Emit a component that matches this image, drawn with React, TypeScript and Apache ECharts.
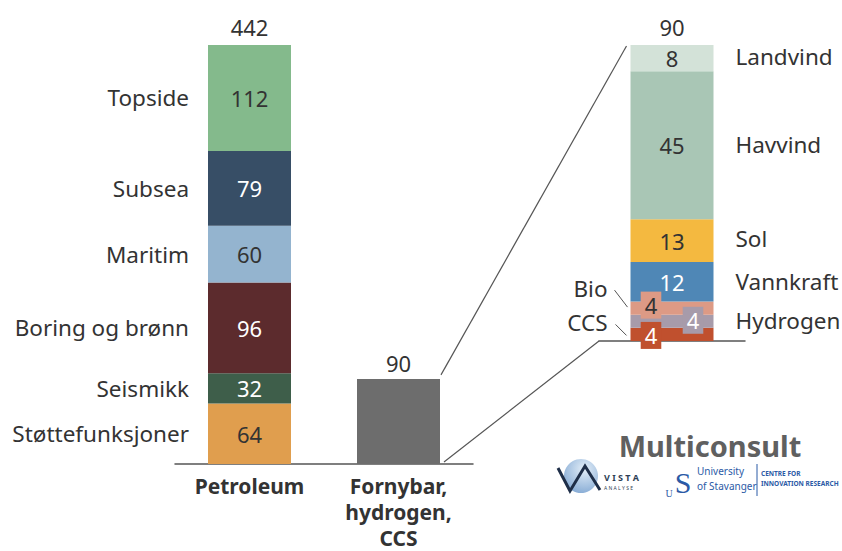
import React, { useEffect, useRef } from 'react';
import * as echarts from 'echarts';

// ---------- data ----------
const mainCategories = ['Petroleum', 'Fornybar,\nhydrogen,\nCCS'];
const petroleumNames = ['Støttefunksjoner', 'Seismikk', 'Boring og brønn', 'Maritim', 'Subsea', 'Topside'];
const petroleumValues = [64, 32, 96, 60, 79, 112];
const petroleumTotalLabel = 442;
const renewableTotal = 90;
const renewableNames = ['CCS', 'Hydrogen', 'Bio', 'Vannkraft', 'Sol', 'Havvind', 'Landvind'];
const renewableValues = [4, 4, 4, 12, 13, 45, 8];

// ---------- styles ----------
const TEXT = '#333333';
const FONT = '"Noto Sans", "Open Sans", sans-serif';
const FS = 22;
const BAR_W = 83;
const petroleumColors = ['#E09E4E', '#3E5E4A', '#5C2B2D', '#94B4CF', '#374E66', '#84BA8C'];
const petroleumLabelColors = [TEXT, '#ffffff', '#ffffff', TEXT, '#ffffff', TEXT];
const renewableBarColor = '#6D6D6D';
const renewableColors = ['#C0502E', '#A79BAA', '#DD9A85', '#4F87B6', '#F4B940', '#A9C6B5', '#D3E2D8'];
const renewableLabelColors = ['#ffffff', '#ffffff', TEXT, '#ffffff', TEXT, TEXT, TEXT];
const renewableLabelBoxes: Record<string, { offset: number[] }> = {
  CCS: { offset: [-21, 1] },
  Hydrogen: { offset: [21, -1] },
  Bio: { offset: [-21, -3] },
};
const renewableNameLayout: Record<string, { side: 'left' | 'right'; dy: number; leader?: number[] }> = {
  CCS: { side: 'left', dy: -12, leader: [-15, -10, -4, 1] },
  Hydrogen: { side: 'right', dy: -1 },
  Bio: { side: 'left', dy: -20, leader: [-16, -18, -3, -1] },
  Vannkraft: { side: 'right', dy: 0 },
  Sol: { side: 'right', dy: -2 },
  Havvind: { side: 'right', dy: -1 },
  Landvind: { side: 'right', dy: -2 },
};

const midpoints = (vals: number[]) =>
  vals.map((v, i) => vals.slice(0, i).reduce((a, b) => a + b, 0) + v / 2);
const sum = (vals: number[]) => vals.reduce((a, b) => a + b, 0);

export default function App() {
  const ref = useRef<HTMLDivElement>(null);
  useEffect(() => {
    document.body.style.margin = '0';
    const chart = echarts.init(ref.current!, null, { renderer: 'svg' });
    const petMid = midpoints(petroleumValues);
    const renMid = midpoints(renewableValues);

    const petroleumSeries = petroleumNames.map((name, i) => ({
      type: 'bar',
      name,
      stack: 'main',
      xAxisIndex: 0,
      yAxisIndex: 0,
      barWidth: BAR_W,
      data: [petroleumValues[i], '-'],
      itemStyle: { color: petroleumColors[i] },
      label: {
        show: true,
        position: 'inside',
        color: petroleumLabelColors[i],
        fontSize: FS,
        fontFamily: FONT,
      },
    }));

    const renewableBar = {
      type: 'bar',
      name: 'Fornybar',
      stack: 'main',
      xAxisIndex: 0,
      yAxisIndex: 0,
      barWidth: BAR_W,
      data: ['-', renewableTotal],
      itemStyle: { color: renewableBarColor },
      label: { show: true, position: 'top', distance: 5, color: TEXT, fontSize: FS, fontFamily: FONT },
    };

    const petroleumNameSeries = {
      type: 'custom',
      xAxisIndex: 0,
      yAxisIndex: 0,
      silent: true,
      clip: false,
      data: petroleumNames.map((n, i) => [0, petMid[i]]).concat([[0, sum(petroleumValues)]]),
      renderItem: (params: any, api: any) => {
        const p = api.coord([api.value(0), api.value(1)]);
        if (params.dataIndex === petroleumNames.length) {
          return {
            type: 'text',
            x: p[0],
            y: p[1] - 18,
            style: { text: String(petroleumTotalLabel), align: 'center', verticalAlign: 'middle', fill: TEXT, fontSize: FS, fontFamily: FONT },
          };
        }
        return {
          type: 'text',
          x: p[0] - BAR_W / 2 - 19,
          y: p[1],
          style: {
            text: petroleumNames[params.dataIndex],
            align: 'right',
            verticalAlign: 'middle',
            fill: TEXT,
            fontSize: FS + 0.5,
            fontFamily: FONT,
          },
        };
      },
    };

    const renewableSeries = renewableNames.map((name, i) => {
      const box = renewableLabelBoxes[name];
      return {
        type: 'bar',
        name,
        stack: 'zoom',
        xAxisIndex: 1,
        yAxisIndex: 1,
        barWidth: BAR_W,
        data: [renewableValues[i]],
        itemStyle: { color: renewableColors[i] },
        label: box
          ? {
              show: true,
              position: 'inside',
              offset: box.offset,
              color: renewableLabelColors[i],
              fontSize: FS,
              fontFamily: FONT,
              backgroundColor: renewableColors[i],
              padding: [2, 4, 1, 4],
              lineHeight: 24,
            }
          : {
              show: true,
              position: 'inside',
              color: renewableLabelColors[i],
              fontSize: FS,
              fontFamily: FONT,
            },
      };
    });

    const renewableTotalSeries = {
      type: 'custom',
      xAxisIndex: 1,
      yAxisIndex: 1,
      silent: true,
      clip: false,
      data: [[0, sum(renewableValues)]],
      renderItem: (params: any, api: any) => {
        const p = api.coord([api.value(0), api.value(1)]);
        return {
          type: 'text',
          x: p[0],
          y: p[1] - 18,
          style: { text: String(renewableTotal), align: 'center', verticalAlign: 'middle', fill: TEXT, fontSize: FS, fontFamily: FONT },
        };
      },
    };

    const renewableNameSeries = {
      type: 'custom',
      xAxisIndex: 1,
      yAxisIndex: 1,
      silent: true,
      clip: false,
      data: renewableNames.map((n, i) => [0, renMid[i]]),
      renderItem: (params: any, api: any) => {
        const name = renewableNames[params.dataIndex];
        const lay = renewableNameLayout[name];
        const p = api.coord([api.value(0), api.value(1)]);
        const left = p[0] - BAR_W / 2;
        const right = p[0] + BAR_W / 2;
        const children: any[] = [
          {
            type: 'text',
            x: lay.side === 'left' ? left - 23 : right + 22,
            y: p[1] + lay.dy,
            style: {
              text: name,
              align: lay.side === 'left' ? 'right' : 'left',
              verticalAlign: 'middle',
              fill: TEXT,
              fontSize: FS + 0.5,
              fontFamily: FONT,
            },
          },
        ];
        if (lay.leader) {
          const [x1, y1, x2, y2] = lay.leader;
          children.push({
            type: 'line',
            shape: { x1: left + x1, y1: p[1] + y1, x2: left + x2, y2: p[1] + y2 },
            style: { stroke: '#555', lineWidth: 1 },
          });
        }
        return { type: 'group', children };
      },
    };

    chart.setOption({
      animation: false,
      backgroundColor: '#ffffff',
      grid: [
        { left: 175, right: 369, top: 19.5, bottom: 87 },
        { left: 599, right: 97, top: 12.1, bottom: 210 },
      ],
      xAxis: [
        {
          type: 'category',
          gridIndex: 0,
          data: mainCategories,
          axisLine: { show: true, lineStyle: { color: '#555', width: 1.5 } },
          axisTick: { show: false },
          axisLabel: {
            color: TEXT,
            fontSize: 21,
            fontWeight: 'bold',
            fontFamily: FONT,
            lineHeight: 26,
            margin: 9,
            interval: 0,
          },
        },
        {
          type: 'category',
          gridIndex: 1,
          data: ['Fornybar'],
          axisLine: { show: true, lineStyle: { color: '#555', width: 1.5 } },
          axisTick: { show: false },
          axisLabel: { show: false },
        },
      ],
      yAxis: [
        { type: 'value', gridIndex: 0, min: 0, max: 470, show: false, splitLine: { show: false } },
        { type: 'value', gridIndex: 1, min: 0, max: 100, show: false, splitLine: { show: false } },
      ],
      series: [
        ...petroleumSeries,
        renewableBar,
        petroleumNameSeries,
        ...renewableSeries,
        renewableTotalSeries,
        renewableNameSeries,
      ],
    });

    // connector lines between the grey bar and the zoomed stack
    const a = chart.convertToPixel({ gridIndex: 0 } as any, [1, renewableTotal]) as number[];
    const b = chart.convertToPixel({ gridIndex: 0 } as any, [1, 0]) as number[];
    const c = chart.convertToPixel({ gridIndex: 1 } as any, [0, sum(renewableValues)]) as number[];
    const d = chart.convertToPixel({ gridIndex: 1 } as any, [0, 0]) as number[];

    const blue = '#2B5AA6';
    chart.setOption({
      graphic: [
        {
          type: 'line',
          shape: { x1: a[0] + BAR_W / 2 + 1, y1: a[1] - 4, x2: c[0] - BAR_W / 2 - 4, y2: c[1] + 1 },
          style: { stroke: '#555', lineWidth: 1.2 },
        },
        {
          type: 'line',
          shape: { x1: b[0] + BAR_W / 2 + 4, y1: b[1] - 2, x2: d[0] - 73, y2: d[1] },
          style: { stroke: '#555', lineWidth: 1.2 },
        },
        // logos (approximated)
        {
          type: 'text',
          x: 710,
          y: 445,
          style: { text: 'Multiconsult', align: 'center', verticalAlign: 'middle', fill: '#606060', fontSize: 29, fontWeight: 'bold', fontFamily: FONT },
        },
        {
          type: 'circle',
          shape: { cx: 581, cy: 476, r: 17 },
          style: {
            fill: new echarts.graphic.RadialGradient(0.6, 0.3, 0.8, [
              { offset: 0, color: '#E3EEF8' },
              { offset: 1, color: '#7FA6D2' },
            ]),
          },
        },
        {
          type: 'polyline',
          shape: { points: [[558, 468], [570, 491], [585, 466], [600, 490]] },
          style: { stroke: '#1E2E48', lineWidth: 3, fill: 'none' },
        },
        {
          type: 'text',
          x: 604,
          y: 477,
          style: { text: 'V I S T A', align: 'left', verticalAlign: 'middle', fill: '#2D3E55', fontSize: 9, fontWeight: 'bold', fontFamily: FONT },
        },
        {
          type: 'text',
          x: 604,
          y: 488,
          style: { text: 'A N A L Y S E', align: 'left', verticalAlign: 'middle', fill: '#2D3E55', fontSize: 5, fontFamily: FONT },
        },
        {
          type: 'text',
          x: 669,
          y: 493,
          style: { text: 'U', align: 'center', verticalAlign: 'middle', fill: blue, fontSize: 10, fontFamily: 'Liberation Serif, serif' },
        },
        {
          type: 'text',
          x: 683,
          y: 482,
          style: { text: 'S', align: 'center', verticalAlign: 'middle', fill: blue, fontSize: 30, fontFamily: 'Liberation Serif, serif' },
        },
        {
          type: 'text',
          x: 697,
          y: 471,
          style: { text: 'University', align: 'left', verticalAlign: 'middle', fill: blue, fontSize: 10, fontFamily: FONT },
        },
        {
          type: 'text',
          x: 697,
          y: 486,
          style: { text: 'of Stavanger', align: 'left', verticalAlign: 'middle', fill: blue, fontSize: 10, fontFamily: FONT },
        },
        {
          type: 'line',
          shape: { x1: 757, y1: 464, x2: 757, y2: 496 },
          style: { stroke: blue, lineWidth: 1 },
        },
        {
          type: 'text',
          x: 761,
          y: 473,
          style: { text: 'CENTRE FOR', align: 'left', verticalAlign: 'middle', fill: blue, fontSize: 6.5, fontWeight: 'bold', fontFamily: FONT },
        },
        {
          type: 'text',
          x: 761,
          y: 483,
          style: { text: 'INNOVATION RESEARCH', align: 'left', verticalAlign: 'middle', fill: blue, fontSize: 6.5, fontWeight: 'bold', fontFamily: FONT },
        },
      ],
    });

    return () => chart.dispose();
  }, []);
  return <div ref={ref} style={{ position: 'absolute', left: 0, top: 0, width: 842, height: 551 }} />;
}
